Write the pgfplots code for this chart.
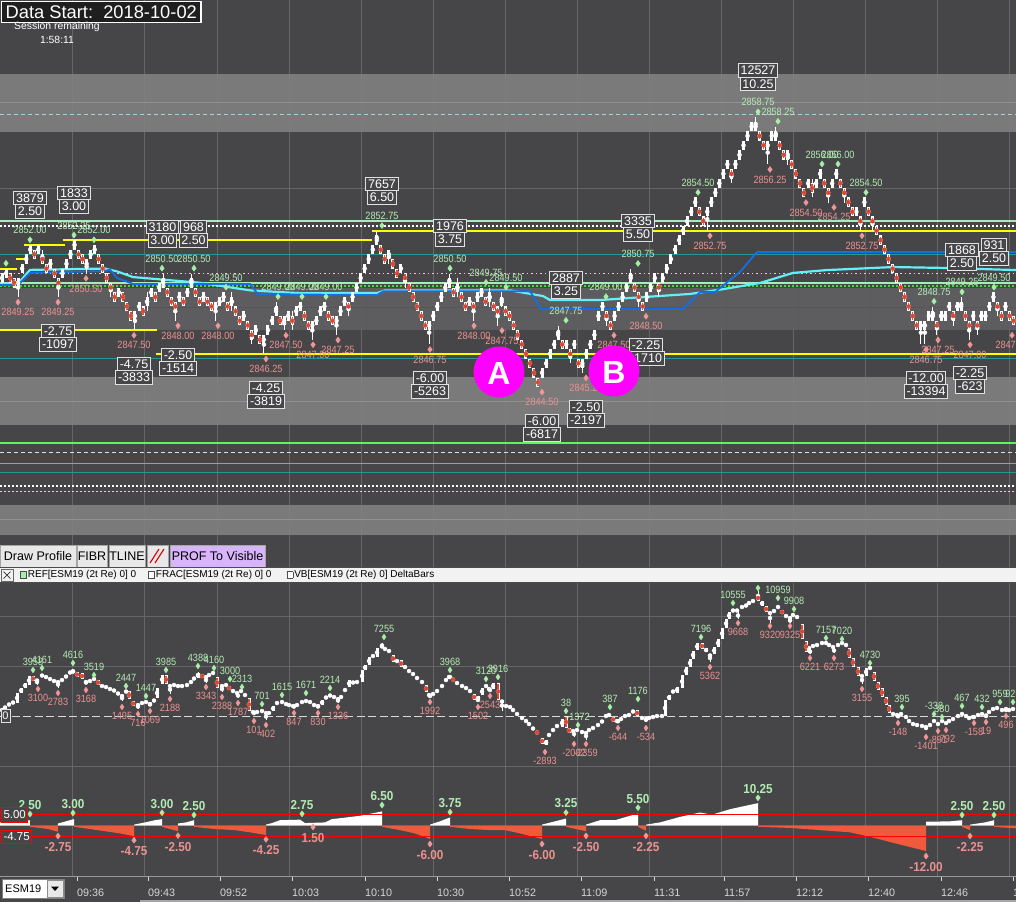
\documentclass[border=0pt]{standalone}
\usepackage{pgfplots}
\pgfplotsset{compat=1.18}
\usepackage{pgfplotstable}
\usepackage{fontspec}
\setmainfont{Liberation Sans}
\newfontfamily\cf[FakeStretch=0.87]{Liberation Sans}
\newfontfamily\cfb[FakeStretch=0.9]{Liberation Sans}

\definecolor{bg}{RGB}{70,70,72}
\definecolor{band}{RGB}{127,127,127}
\definecolor{bandline}{RGB}{145,145,145}
\definecolor{midband}{RGB}{96,96,98}
\definecolor{gridc}{RGB}{102,102,104}
\definecolor{lgreen}{RGB}{180,236,180}
\definecolor{dgreen}{RGB}{165,240,165}
\definecolor{lsal}{RGB}{236,145,145}
\definecolor{dsal}{RGB}{240,150,150}
\definecolor{candlered}{RGB}{222,70,50}
\definecolor{candlewhite}{RGB}{255,255,255}
\definecolor{vblue}{RGB}{20,110,230}
\definecolor{vcyan}{RGB}{100,240,250}
\definecolor{mint}{RGB}{170,235,190}
\definecolor{tealc}{RGB}{40,150,150}
\definecolor{pinkd}{RGB}{240,200,225}
\definecolor{gdot}{RGB}{60,220,60}
\definecolor{bgreen}{RGB}{100,240,100}
\definecolor{orng}{RGB}{230,140,40}
\definecolor{lblue}{RGB}{160,210,230}
\definecolor{histred}{RGB}{240,90,60}
\definecolor{magent}{RGB}{255,0,255}
\definecolor{btn}{RGB}{232,232,232}
\definecolor{btnpurple}{RGB}{216,180,250}
\definecolor{boxline}{RGB}{225,225,225}
\definecolor{ticktext}{RGB}{215,215,215}
\definecolor{yel}{RGB}{255,255,0}
\definecolor{sqgreen}{RGB}{170,235,170}

% ---------- price bars (2-tick renko): bar index, body bottom, down flag
\pgfplotstableread[row sep=\\]{
i b d\\
0 2850.0 0\\ 1 2850.25 0\\ 2 2850.0 1\\ 3 2849.75 1\\ 4 2849.75 0\\ 5 2850.5 0\\ 6 2851.0 0\\ 7 2851.5 0\\
8 2851.25 1\\ 9 2851.5 0\\ 10 2851.0 1\\ 11 2850.5 1\\ 12 2850.75 0\\ 13 2850.25 1\\ 14 2849.75 1\\ 15 2850.25 0\\
16 2850.75 0\\ 17 2851.25 0\\ 18 2851.75 0\\ 19 2851.25 1\\ 20 2851.0 1\\ 21 2850.75 0\\ 22 2851.25 0\\ 23 2851.5 0\\
24 2851.0 1\\ 25 2850.5 1\\ 26 2850.0 1\\ 27 2849.5 1\\ 28 2849.0 1\\ 29 2849.25 0\\ 30 2849.0 1\\ 31 2848.5 1\\
32 2848.0 1\\ 33 2848.0 0\\ 34 2848.5 0\\ 35 2848.25 1\\ 36 2848.75 0\\ 37 2849.25 0\\ 38 2849.0 1\\ 39 2849.5 0\\
40 2849.75 0\\ 41 2849.25 1\\ 42 2848.75 1\\ 43 2848.5 1\\ 44 2849.0 0\\ 45 2848.75 1\\ 46 2849.25 0\\ 47 2849.75 0\\
48 2849.25 1\\ 49 2848.75 1\\ 50 2849.0 0\\ 51 2848.75 1\\ 52 2848.5 1\\ 53 2848.5 0\\ 54 2848.75 0\\ 55 2849.0 0\\
56 2848.5 1\\ 57 2848.75 0\\ 58 2848.25 1\\ 59 2847.75 1\\ 60 2848.0 0\\ 61 2847.5 1\\ 62 2847.0 1\\ 63 2847.25 0\\
64 2846.75 1\\ 65 2846.75 0\\ 66 2847.25 0\\ 67 2847.75 0\\ 68 2848.25 0\\ 69 2847.75 1\\ 70 2847.75 0\\ 71 2848.0 0\\
72 2847.75 1\\ 73 2848.25 0\\ 74 2848.5 0\\ 75 2848.0 1\\ 76 2847.5 1\\ 77 2847.5 0\\ 78 2847.75 0\\ 79 2848.25 0\\
80 2848.5 0\\ 81 2848.0 1\\ 82 2847.75 1\\ 83 2847.75 0\\ 84 2848.25 0\\ 85 2848.75 0\\ 86 2848.5 1\\ 87 2849.0 0\\
88 2849.5 0\\ 89 2850.0 0\\ 90 2850.5 0\\ 91 2851.0 0\\ 92 2851.5 0\\ 93 2852.0 0\\ 94 2851.5 1\\ 95 2851.0 1\\
96 2851.25 0\\ 97 2850.75 1\\ 98 2850.25 1\\ 99 2850.5 0\\ 100 2850.0 1\\ 101 2849.5 1\\ 102 2849.0 1\\ 103 2848.5 1\\
104 2848.0 1\\ 105 2847.5 1\\ 106 2847.5 0\\ 107 2848.0 0\\ 108 2848.5 0\\ 109 2849.0 0\\ 110 2849.5 0\\ 111 2849.75 0\\
112 2849.25 1\\ 113 2849.5 0\\ 114 2849.0 1\\ 115 2848.5 1\\ 116 2848.75 0\\ 117 2848.5 1\\ 118 2849.0 0\\ 119 2849.25 0\\
120 2848.75 1\\ 121 2849.0 0\\ 122 2848.5 1\\ 123 2848.25 1\\ 124 2848.75 0\\ 125 2848.25 1\\ 126 2848.0 1\\ 127 2847.5 1\\
128 2847.0 1\\ 129 2846.5 1\\ 130 2846.0 1\\ 131 2845.5 1\\ 132 2845.0 1\\ 133 2844.5 1\\ 134 2845.0 0\\ 135 2845.5 0\\
136 2846.0 0\\ 137 2846.5 0\\ 138 2847.0 0\\ 139 2846.5 1\\ 140 2846.5 0\\ 141 2846.0 1\\ 142 2846.5 0\\ 143 2845.5 1\\
144 2845.5 0\\ 145 2846.0 0\\ 146 2846.5 0\\ 147 2847.0 0\\ 148 2848.0 0\\ 149 2848.5 0\\ 150 2848.0 1\\ 151 2847.5 1\\
152 2848.0 0\\ 153 2848.5 0\\ 154 2849.0 0\\ 155 2849.5 0\\ 156 2850.0 0\\ 157 2849.5 1\\ 158 2849.0 1\\ 159 2848.5 1\\
160 2849.0 0\\ 161 2849.5 0\\ 162 2850.0 0\\ 163 2849.5 1\\ 164 2850.0 0\\ 165 2850.5 0\\ 166 2851.0 0\\ 167 2851.5 0\\
168 2852.0 0\\ 169 2852.5 0\\ 170 2853.0 0\\ 171 2853.5 0\\ 172 2854.0 0\\ 173 2853.5 1\\ 174 2853.0 1\\ 175 2853.5 0\\
176 2854.0 0\\ 177 2854.5 0\\ 178 2855.0 0\\ 179 2855.5 0\\ 180 2856.0 0\\ 181 2855.5 1\\ 182 2856.0 0\\ 183 2856.5 0\\
184 2857.0 0\\ 185 2857.5 0\\ 186 2858.0 0\\ 187 2858.0 0\\ 188 2857.5 1\\ 189 2857.0 1\\ 190 2857.0 0\\ 191 2857.5 0\\
192 2857.5 0\\ 193 2857.0 1\\ 194 2856.5 1\\ 195 2856.5 0\\ 196 2856.0 1\\ 197 2855.5 1\\ 198 2855.0 1\\ 199 2854.5 1\\
200 2855.0 0\\ 201 2854.75 1\\ 202 2855.0 0\\ 203 2855.5 0\\ 204 2855.0 1\\ 205 2854.5 1\\ 206 2855.0 0\\ 207 2855.5 0\\
208 2855.0 1\\ 209 2854.5 1\\ 210 2854.0 1\\ 211 2853.5 1\\ 212 2853.5 0\\ 213 2853.0 1\\ 214 2854.0 0\\ 215 2853.5 1\\
216 2853.0 1\\ 217 2852.5 1\\ 218 2852.0 1\\ 219 2851.5 1\\ 220 2851.0 1\\ 221 2850.5 1\\ 222 2850.0 1\\ 223 2849.5 1\\
224 2849.0 1\\ 225 2848.5 1\\ 226 2848.0 1\\ 227 2847.5 1\\ 228 2847.5 0\\ 229 2847.5 0\\ 230 2848.0 0\\ 231 2848.0 0\\
232 2847.5 1\\ 233 2848.0 0\\ 234 2848.0 0\\ 235 2848.5 0\\ 236 2848.0 1\\ 237 2848.5 0\\ 238 2848.5 0\\ 239 2848.0 1\\
240 2847.5 1\\ 241 2848.0 0\\ 242 2847.5 1\\ 243 2848.0 0\\ 244 2848.0 0\\ 245 2848.5 0\\ 246 2849.0 0\\ 247 2848.5 1\\
248 2848.0 1\\ 249 2848.5 0\\ 250 2848.0 1\\ 251 2847.75 1\\
}\candles

\pgfplotstableread[row sep=\\]{
i lo hi\\
4 2849.25 2850.25\\ 10 2851.0 2851.75\\ 14 2849.25 2850.25\\ 21 2850.5 2851.25\\ 27 2849.25 2850.0\\ 33 2847.5 2848.5\\
36 2848.5 2849.5\\ 40 2849.75 2850.5\\ 43 2848.0 2849.0\\ 47 2849.75 2850.5\\ 53 2848.0 2849.0\\ 57 2848.5 2849.5\\
62 2846.75 2847.5\\ 65 2846.25 2847.25\\ 68 2848.25 2849.0\\ 70 2847.5 2848.25\\ 72 2847.5 2848.5\\ 77 2847.0 2848.0\\
83 2847.25 2848.25\\ 86 2848.25 2849.0\\ 93 2852.0 2852.75\\ 96 2851.0 2851.75\\ 100 2849.75 2850.5\\ 106 2846.75 2848.0\\
111 2849.75 2850.5\\ 113 2849.25 2850.25\\ 117 2848.0 2849.0\\ 121 2848.75 2849.75\\ 123 2847.75 2848.75\\ 124 2848.75 2849.5\\
138 2847.0 2847.75\\ 141 2845.75 2846.5\\ 144 2845.25 2846.0\\ 150 2847.75 2848.5\\ 156 2850.0 2850.75\\ 158 2848.75 2849.5\\
163 2849.25 2850.0\\ 175 2852.75 2854.0\\ 181 2855.25 2856.0\\ 187 2858.0 2858.75\\ 190 2856.25 2857.5\\ 192 2857.5 2858.25\\
195 2856.25 2857.0\\ 201 2854.5 2855.5\\ 205 2854.25 2855.0\\ 209 2854.25 2855.0\\ 213 2852.75 2853.5\\ 216 2852.75 2853.5\\
228 2846.75 2848.0\\ 229 2846.75 2848.0\\ 231 2848.0 2848.75\\ 232 2847.25 2848.0\\ 236 2847.75 2848.5\\ 238 2848.5 2849.25\\
240 2847.0 2848.0\\ 242 2847.25 2848.0\\ 247 2848.25 2849.0\\
}\wicks

\pgfplotstableread[row sep=\\]{
x p lab\\
30 2852.00 2852.00\\ 74 2852.25 2852.25\\ 94 2852.00 2852.00\\ 162 2850.50 2850.50\\ 194 2850.50 2850.50\\
226 2849.50 2849.50\\ 278 2849.00 2849.00\\ 302 2849.00 2849.00\\ 326 2849.00 2849.00\\ 382 2852.75 2852.75\\
450 2850.50 2850.50\\ 486 2849.75 2849.75\\ 506 2849.50 2849.50\\ 566 2847.75 2847.75\\ 606 2849.00 2849.00\\
638 2850.75 2850.75\\ 698 2854.50 2854.50\\ 758 2858.75 2858.75\\ 778 2858.25 2858.25\\ 822 2856.00 2856.00\\
838 2856.00 2856.00\\ 866 2854.50 2854.50\\ 934 2848.75 2848.75\\ 962 2849.25 2849.25\\ 994 2849.50 2849.50\\
}\mhi

\pgfplotstableread[row sep=\\]{
x p lab\\
18 2849.25 2849.25\\ 58 2849.25 2849.25\\ 86 2850.50 2850.50\\ 134 2847.50 2847.50\\ 178 2848.00 2848.00\\
218 2848.00 2848.00\\ 266 2846.25 2846.25\\ 286 2847.50 2847.50\\ 313 2847.00 2847.00\\ 338 2847.25 2847.25\\
430 2846.75 2846.75\\ 474 2848.00 2848.00\\ 502 2847.75 2847.75\\ 542 2844.50 2844.50\\ 586 2845.25 2845.25\\
614 2847.50 2847.50\\ 646 2848.50 2848.50\\ 710 2852.75 2852.75\\ 770 2856.25 2856.25\\ 806 2854.50 2854.50\\
834 2854.25 2854.25\\ 862 2852.75 2852.75\\ 926 2846.75 2846.75\\ 938 2847.25 2847.25\\ 970 2847.00 2847.00\\
1012 2847.50 2847.50\\
}\mlo

% ---------- cumulative delta bars: x (px), body low, body high, down flag
\pgfplotstableread[row sep=\\]{
x lo hi d\\
2 400 800 0\\ 5 700 1000 0\\ 9 1000 1300 0\\ 13 1200 1500 0\\ 17 1300 2300 0\\ 21 2300 2800 0\\ 25 2800 3300 0\\
29 3100 4000 0\\ 33 3500 4000 1\\ 37 3400 3700 0\\ 42 3900 4200 0\\ 46 3800 4000 0\\ 50 3600 3800 0\\ 54 3400 3600 0\\
58 3300 3500 0\\ 62 3500 3700 0\\ 66 3800 4100 0\\ 70 4200 4500 0\\ 73 4300 4600 0\\ 77 3900 4400 1\\ 82 3700 4300 1\\
86 3300 3500 0\\ 90 3400 3600 0\\ 94 3600 3800 0\\ 98 3100 3600 1\\ 102 2900 3100 0\\ 106 2800 3000 0\\ 110 2600 2800 0\\
114 2400 2700 0\\ 118 2100 2400 0\\ 122 1900 2100 0\\ 126 2300 2600 0\\ 129 1700 2500 1\\ 133 1000 1500 1\\ 138 1000 1200 0\\
142 1200 1400 0\\ 146 1300 1500 0\\ 150 1100 1300 0\\ 154 1400 1700 0\\ 157 1800 2800 0\\ 162 3200 4100 0\\ 166 3200 4100 1\\
170 2900 3100 0\\ 174 3000 3200 0\\ 178 2900 3100 0\\ 182 2900 3100 0\\ 187 3000 3200 0\\ 191 3300 3500 0\\ 194 3600 3900 0\\
198 3800 4300 0\\ 202 3900 4100 1\\ 206 3800 4000 0\\ 209 4000 4200 0\\ 213 4200 4400 0\\ 217 2800 3900 1\\ 222 2900 3100 0\\
226 3000 3200 0\\ 229 2600 3000 1\\ 233 2400 2600 0\\ 237 2200 2400 0\\ 241 2400 2600 0\\ 245 2000 2200 0\\ 249 500 1800 1\\
253 300 500 0\\ 257 300 500 0\\ 262 400 600 0\\ 266 200 400 0\\ 269 200 400 0\\ 273 500 1000 0\\ 277 1200 1400 0\\
282 1300 1500 0\\ 286 1100 1300 0\\ 289 1000 1200 0\\ 293 900 1100 0\\ 297 1000 1200 0\\ 302 1300 1500 0\\ 306 1400 1600 0\\
310 1300 1500 0\\ 314 1000 1200 0\\ 318 900 1100 0\\ 322 1100 1600 0\\ 326 1700 2000 0\\ 330 1900 2200 0\\ 334 1800 2000 0\\
338 1600 1800 0\\ 341 1800 2000 0\\ 345 2500 2700 0\\ 349 2900 3600 0\\ 353 3200 3500 0\\ 357 3300 3500 0\\ 362 3400 4600 0\\
365 4600 5100 0\\ 369 5100 5900 0\\ 373 5900 6100 0\\ 377 5900 6800 0\\ 382 6800 7100 0\\ 385 6600 6800 0\\ 389 6400 6600 0\\
393 5400 6100 1\\ 397 5400 5600 0\\ 401 4900 5600 1\\ 405 4800 5000 0\\ 409 4400 4600 0\\ 413 4100 4300 0\\ 417 3700 3900 0\\
422 3300 3500 0\\ 426 2400 3100 1\\ 429 2000 2200 0\\ 433 2100 2300 0\\ 437 2400 2600 0\\ 442 2900 3100 0\\ 446 3500 3700 0\\
449 3800 4000 0\\ 453 3500 3800 1\\ 457 3200 3400 0\\ 462 2900 3100 0\\ 466 2700 2900 0\\ 470 2400 2600 0\\ 474 1600 2200 1\\
478 1600 2000 0\\ 482 2100 2800 0\\ 486 2900 3100 0\\ 489 2600 2800 0\\ 493 2700 3300 0\\ 498 1600 3300 1\\ 502 1300 1600 0\\
506 900 1100 0\\ 510 800 1000 0\\ 513 500 700 0\\ 517 100 300 0\\ 522 -300 -100 0\\ 526 -600 -400 0\\ 529 -900 -700 0\\
533 -1400 -1100 0\\ 537 -1800 -1500 1\\ 542 -2800 -2200 1\\ 546 -2900 -2400 0\\ 549 -2000 -1800 0\\ 553 -1500 -1300 0\\
557 -1100 -900 0\\ 562 -1100 -300 0\\ 566 -1200 0 1\\ 569 -1700 -1200 1\\ 573 -1600 -1400 0\\ 577 -1500 -1300 0\\
582 -1700 -1500 0\\ 586 -1800 -1600 0\\ 589 -1500 -1300 0\\ 593 -1300 -1100 0\\ 598 -1000 -800 0\\ 602 -700 -400 0\\
606 -100 100 0\\ 609 0 200 0\\ 613 -600 -100 1\\ 617 -600 -400 0\\ 621 -400 -200 0\\ 625 -100 100 0\\ 629 0 200 0\\
633 300 600 0\\ 637 0 600 1\\ 642 -300 -100 0\\ 646 -400 -200 0\\ 649 -300 -100 0\\ 653 -200 0 0\\ 657 -100 100 0\\
662 -100 100 0\\ 665 0 1600 0\\ 669 1600 2100 0\\ 673 2300 2600 0\\ 677 2300 2900 0\\ 682 2800 4100 0\\ 686 4100 4900 0\\
690 4900 5700 0\\ 693 5700 6500 0\\ 697 6600 7300 0\\ 702 6700 7300 1\\ 706 6400 6800 0\\ 710 5900 6200 0\\ 714 6200 6900 0\\
718 6900 7700 0\\ 722 7700 8800 0\\ 726 8800 9700 0\\ 729 9700 10400 0\\ 733 10400 10700 0\\ 737 10400 10700 0\\
742 10800 11000 0\\ 746 10900 11200 0\\ 749 11200 11400 0\\ 753 11400 11600 0\\ 758 11500 12100 1\\ 762 11000 11500 0\\
766 10400 11000 1\\ 770 10200 10400 0\\ 774 10400 10600 0\\ 778 10800 11000 0\\ 782 10200 10600 1\\ 786 9900 10100 0\\
790 9700 9900 0\\ 793 10000 10200 0\\ 797 9800 10000 0\\ 802 7700 9200 1\\ 806 6400 7500 1\\ 809 6700 6900 0\\
813 6900 7100 0\\ 817 7000 7200 0\\ 822 7200 7400 0\\ 826 7200 7400 0\\ 829 7000 7200 0\\ 833 6800 7000 0\\ 838 7000 7200 0\\
842 7200 7400 0\\ 846 7000 7200 0\\ 849 5800 6800 1\\ 853 4900 5800 1\\ 858 4000 4900 1\\ 862 3900 4100 0\\ 866 4000 4800 0\\
870 4700 4900 0\\ 874 3500 4400 1\\ 878 2600 3400 1\\ 882 1900 2800 1\\ 886 1100 1900 1\\ 889 300 1100 1\\ 893 100 300 0\\
897 0 200 0\\ 901 100 300 0\\ 906 -200 0 0\\ 909 -600 -400 0\\ 913 -900 -700 0\\ 917 -1000 -800 0\\ 922 -1100 -900 0\\
926 -1200 -1000 0\\ 930 -1000 -800 0\\ 934 -600 -400 0\\ 938 -900 -700 0\\ 942 -600 -400 0\\ 946 -800 -600 0\\ 949 -600 -400 0\\
953 -400 -200 0\\ 958 -100 100 0\\ 962 100 300 0\\ 966 -100 100 0\\ 969 -300 -100 0\\ 973 -200 0 0\\ 978 0 200 0\\
982 100 300 0\\ 986 -100 100 0\\ 989 300 500 0\\ 993 600 800 0\\ 997 700 900 0\\ 1002 500 700 0\\ 1006 600 800 0\\
1009 500 700 0\\ 1013 600 800 0\\
}\dtab

\pgfplotstableread[row sep=\\]{
x lo hi\\
37 3100 3700\\ 58 2800 3500\\ 73 4300 4650\\ 86 3200 3500\\ 122 1500 2100\\ 138 700 1200\\ 150 1000 1300\\ 170 2200 3100\\
198 3800 4400\\ 206 3300 3900\\ 222 2400 3000\\ 238 1800 2300\\ 254 100 500\\ 266 -400 300\\ 294 800 1100\\ 318 800 1100\\
338 1300 1800\\ 382 6800 7300\\ 430 1900 2100\\ 450 3800 4000\\ 478 1500 1700\\ 490 2500 2700\\ 502 500 1600\\ 546 -2900 -2400\\
574 -2100 -1500\\ 586 -2400 -1600\\ 618 -650 -400\\ 646 -550 -200\\ 710 5400 6200\\ 738 9700 10400\\ 758 11500 12500\\
770 9300 10300\\ 790 9300 9800\\ 810 6200 6700\\ 834 6300 6800\\ 862 3200 4000\\ 898 -150 100\\ 926 -1400 -1000\\
974 -200 0\\ 986 0 100\\ 1006 500 700\\
}\dwick

\pgfplotstableread[row sep=\\]{
x v lab\\
33 4600 3958\\ 42 4800 4161\\ 73 5300 4616\\ 94 4100 3519\\ 126 3000 2447\\ 146 2000 1447\\ 166 4600 3985\\
198 5000 4388\\ 214 4800 4160\\ 230 3700 3000\\ 242 2900 2313\\ 262 1200 701\\ 282 2100 1615\\ 306 2300 1671\\
330 2800 2214\\ 384 7900 7255\\ 450 4600 3968\\ 486 3700 3120\\ 498 3900 3916\\ 566 500 38\\ 578 -900 -1372\\
610 900 387\\ 638 1700 1176\\ 701 7900 7196\\ 733 11300 10555\\ 778 11800 10959\\ 794 10700 9908\\ 826 7800 7157\\
842 7700 7020\\ 870 5300 4730\\ 902 900 395\\ 934 200 -338\\ 942 -100 380\\ 962 1000 467\\ 982 900 432\\
1000 1400 959\\ 1013 1400 920\\
}\dhi

\pgfplotstableread[row sep=\\]{
x v lab\\
38 2700 3100\\ 58 2300 2783\\ 86 2600 3168\\ 122 900 1495\\ 138 200 716\\ 150 500 1069\\ 170 1700 2188\\
206 2900 3343\\ 222 1900 2388\\ 238 1300 1787\\ 254 -500 101\\ 266 -900 -402\\ 294 300 847\\ 318 300 830\\
338 900 1336\\ 430 1400 1992\\ 478 900 1502\\ 490 2000 2543\\ 545 -3600 -2893\\ 574 -2800 -2082\\ 586 -2800 -2359\\
618 -1200 -644\\ 646 -1200 -534\\ 710 4900 5362\\ 738 9300 9668\\ 770 9000 9320\\ 790 9000 9325\\ 810 5800 6221\\
834 5800 6273\\ 862 2700 3155\\ 898 -700 -148\\ 926 -2100 -1401\\ 938 -1500 -891\\ 946 -1400 -792\\ 974 -700 -158\\
986 -600 19\\ 1006 0 496\\
}\dlo

\pgfplotstableread[row sep=\\]{
x v lab\\
30 5.3 2.50\\ 73 5.8 3.00\\ 162 5.9 3.00\\ 194 4.9 2.50\\ 302 5.4 2.75\\ 382 9.4 6.50\\ 450 6.2 3.75\\
566 6.0 3.25\\ 638 8.2 5.50\\ 758 12.7 10.25\\ 962 4.9 2.50\\ 994 4.9 2.50\\
}\bhi

\pgfplotstableread[row sep=\\]{
x v lab\\
58 -4.7 -2.75\\ 134 -6.6 -4.75\\ 178 -4.5 -2.50\\ 266 -6.2 -4.25\\ 313 -0.6 1.50\\ 430 -8.3 -6.00\\
542 -8.3 -6.00\\ 586 -4.6 -2.50\\ 646 -4.6 -2.25\\ 926 -13.8 -12.00\\ 970 -4.7 -2.25\\
}\blo

\tikzset{
  bxs/.style={draw=boxline, line width=0.9pt, fill=bg, inner xsep=2.2pt, inner ysep=0pt,
    minimum height=13.5pt, text=white, font=\fontsize{12.5}{14}\selectfont},
  btnst/.style={draw=black!35, fill=btn, line width=0.6pt},
}
\newcommand\bx[3]{\node[bxs] at (#1pt,-#2pt) {#3};}
\newcommand\sq[1]{{\setlength\fboxsep{0pt}\setlength\fboxrule{0.6pt}\fcolorbox{black!70}{#1}{\phantom{\rule{5.5pt}{5.5pt}}}}\kern1pt}

\pgfplotsset{
  candleaxis/.style={scale only axis, width=1016pt, xmin=0, xmax=1016,
    axis line style={draw=none}, tick style={draw=none},
    xtick={72,144,217,289,361,433,505,577,649,721,793,865,937,1009}, xticklabels={},
    grid style={gridc, line width=0.8pt}, clip=true},
  ebar/.style n args={2}{color=#1, only marks, mark=none, error bars/.cd, y dir=both, y explicit,
    error mark=none, error bar style={draw=#1, solid, line width=#2}},
}

\begin{document}
\begin{tikzpicture}
\useasboundingbox (0,0) rectangle (1016pt,-902pt);
\fill[bg] (0,0) rectangle (1016pt,-902pt);

% ================= MAIN PRICE PANEL =================
\begin{axis}[candleaxis, at={(0pt,0pt)}, anchor=north west, height=568pt,
  ymin=2834.95, ymax=2864.92, ytick=\empty, xmajorgrids]
  % shaded zones
  \addplot[draw=none, fill=band, fill opacity=0.92] coordinates {(0,2857.96) (1016,2857.96) (1016,2861.0) (0,2861.0)} -- cycle;
  \addplot[draw=none, fill=midband, fill opacity=0.9] coordinates {(0,2847.5) (1016,2847.5) (1016,2849.75) (0,2849.75)} -- cycle;
  \addplot[draw=none, fill=band, fill opacity=0.92] coordinates {(0,2842.5) (1016,2842.5) (1016,2845.03) (0,2845.03)} -- cycle;
  \addplot[draw=none, fill=band, fill opacity=0.92] coordinates {(0,2836.69) (1016,2836.69) (1016,2838.27) (0,2838.27)} -- cycle;
  \addplot[bandline, line width=1pt] coordinates {(0,2859.5) (1016,2859.5)};
  \addplot[black!10!midband, line width=1pt] coordinates {(0,2848.72) (1016,2848.72)};
  \addplot[bandline, line width=1pt] coordinates {(0,2843.71) (1016,2843.71)};
  \addplot[bandline, line width=1pt] coordinates {(0,2837.53) (1016,2837.53)};
  \addplot[gridc, line width=0.8pt] coordinates {(0,2855.0) (1016,2855.0)};
  % levels
  \addplot[lblue, line width=1pt, dash pattern=on 4pt off 3pt] coordinates {(0,2858.9) (1016,2858.9)};
  \addplot[mint, line width=1.5pt] coordinates {(0,2853.25) (1016,2853.25)};
  \addplot[white, line width=1.2pt, dash pattern=on 1.5pt off 2.5pt] coordinates {(0,2853.0) (1016,2853.0)};
  \addplot[tealc, line width=1pt] coordinates {(0,2851.5) (1016,2851.5)};
  \addplot[pinkd, line width=1pt, dash pattern=on 1.5pt off 3pt] coordinates {(0,2850.5) (1016,2850.5)};
  \addplot[mint, line width=1.5pt] coordinates {(0,2850.0) (1016,2850.0)};
  \addplot[gdot, line width=1.2pt, dash pattern=on 1.5pt off 2.5pt] coordinates {(0,2849.83) (1016,2849.83)};
  \addplot[tealc, line width=1pt] coordinates {(0,2846.0) (1016,2846.0)};
  \addplot[bgreen, line width=2pt] coordinates {(0,2841.54) (1016,2841.54)};
  \addplot[black!12, line width=1pt, dash pattern=on 4pt off 3pt] coordinates {(0,2841.07) (1016,2841.07)};
  \addplot[orng, line width=1pt] coordinates {(0,2840.49) (1016,2840.49)};
  \addplot[tealc, line width=1pt] coordinates {(0,2840.0) (1016,2840.0)};
  \addplot[white, line width=1.2pt, dash pattern=on 1.5pt off 2.5pt] coordinates {(0,2839.28) (1016,2839.28)};
  \addplot[pinkd, line width=1pt, dash pattern=on 2pt off 2pt] coordinates {(0,2839.0) (1016,2839.0)};
  % yellow swing levels
  \addplot[yel, line width=2pt] coordinates {(0,2850.75) (17,2850.75)};
  \addplot[yel, line width=2pt] coordinates {(16,2851.25) (25,2851.25)};
  \addplot[yel, line width=2pt] coordinates {(24,2852.0) (65,2852.0)};
  \addplot[yel, line width=2pt] coordinates {(63,2852.25) (372,2852.25)};
  \addplot[yel, line width=2pt] coordinates {(372,2852.75) (1016,2852.75)};
  \addplot[yel, line width=2pt] coordinates {(0,2847.5) (157,2847.5)};
  \addplot[yel, line width=2pt] coordinates {(156,2846.25) (1016,2846.25)};
  % VWAP-style lines
  \addplot[vcyan, line width=2.2pt] coordinates {(0,2849.95) (18,2849.95) (30,2850.68) (105,2850.75) (117,2850.6)
    (133,2850.3) (200,2850.0) (250,2849.6) (300,2849.45) (377,2849.46) (385,2849.6) (510,2849.6) (543,2849.3)
    (550,2849.09) (600,2849.09) (690,2849.41) (718,2849.62) (760,2849.99) (793,2850.52) (827,2850.67)
    (893,2850.83) (947,2850.78) (1016,2850.67)};
  \addplot[vblue, line width=1.8pt] coordinates {(0,2849.88) (18,2849.88) (30,2850.52) (105,2850.62) (110,2850.7)
    (117,2850.25) (133,2849.94) (250,2849.94) (258,2849.40) (377,2849.35) (383,2849.55) (530,2849.55)
    (541,2848.62) (683,2848.62) (700,2849.51) (715,2849.51) (740,2850.57) (757,2851.62) (1016,2851.62)};
  % candles
  \addplot[ebar={candlewhite}{1pt}] table[x expr=2+4.03*\thisrow{i}, y expr=(\thisrow{lo}+\thisrow{hi})/2,
    y error expr=(\thisrow{hi}-\thisrow{lo})/2] {\wicks};
  \addplot[ebar={candlewhite}{3pt}] table[x expr=2+4.03*\thisrow{i}, y expr=\thisrow{b}+0.25, y error expr=0.25] {\candles};
  \addplot[restrict expr to domain={\thisrow{d}}{0.5:1.5}, ebar={candlered}{1.2pt}]
    table[x expr=2+4.03*\thisrow{i}, y expr=\thisrow{b}+0.25, y error expr=0.19] {\candles};
  % swing markers
  \addplot[only marks, mark=diamond*, mark size=3pt, color=dgreen] coordinates {(6,2851.03)};
  \addplot[only marks, mark=diamond*, mark size=3pt, color=dgreen, point meta=explicit symbolic,
    nodes near coords, every node near coord/.append style={anchor=center, yshift=9.5pt, text=lgreen,
    inner sep=0pt, font=\cf\fontsize{10.5}{12}\selectfont}]
    table[x=x, y expr=\thisrow{p}+0.27, meta=lab] {\mhi};
  \addplot[only marks, mark=diamond*, mark size=3pt, color=dsal, point meta=explicit symbolic,
    nodes near coords, every node near coord/.append style={anchor=center, yshift=-10pt, text=lsal,
    inner sep=0pt, font=\cf\fontsize{10.5}{12}\selectfont}]
    table[x=x, y expr=\thisrow{p}-0.27, meta=lab] {\mlo};
\end{axis}

% ================= CUMULATIVE DELTA PANEL =================
\begin{axis}[candleaxis, at={(0pt,-582pt)}, anchor=north west, height=184pt,
  ymin=-5000, ymax=13400, ytick={-5000,5000,10000}, yticklabels={}, grid=major]
  \addplot[black!15, line width=1pt, dash pattern=on 8pt off 3.5pt] coordinates {(0,0) (1016,0)};
  \addplot[ebar={candlewhite}{1pt}] table[x=x, y expr=(\thisrow{lo}+\thisrow{hi})/2,
    y error expr=(\thisrow{hi}-\thisrow{lo})/2] {\dwick};
  \addplot[ebar={candlewhite}{3pt}] table[x=x, y expr=(\thisrow{lo}+\thisrow{hi})/2,
    y error expr=(\thisrow{hi}-\thisrow{lo})/2] {\dtab};
  \addplot[restrict expr to domain={\thisrow{d}}{0.5:1.5}, ebar={candlered}{1.2pt}]
    table[x=x, y expr=(\thisrow{lo}+\thisrow{hi})/2,
    y error expr=(\thisrow{hi}-\thisrow{lo})/2-70] {\dtab};
  \addplot[only marks, mark=diamond*, mark size=2.8pt, color=dgreen] coordinates {(758,12800)};
  \addplot[only marks, mark=diamond*, mark size=2.8pt, color=dgreen, point meta=explicit symbolic,
    nodes near coords, every node near coord/.append style={anchor=center, yshift=8.5pt, text=lgreen,
    inner sep=0pt, font=\cf\fontsize{10.5}{12}\selectfont}]
    table[x=x, y=v, meta=lab] {\dhi};
  \addplot[only marks, mark=diamond*, mark size=2.8pt, color=dsal, point meta=explicit symbolic,
    nodes near coords, every node near coord/.append style={anchor=center, yshift=-9pt, text=lsal,
    inner sep=0pt, font=\cf\fontsize{10.5}{12}\selectfont}]
    table[x=x, y=v, meta=lab] {\dlo};
\end{axis}

% ================= DELTA BARS (SWING) PANEL =================
\begin{axis}[scale only axis, width=1016pt, height=110pt, at={(0pt,-766pt)}, anchor=north west,
  xmin=0, xmax=1016, ymin=-22.86, ymax=27.14, clip=true,
  axis x line*=bottom, axis y line=none,
  x axis line style={draw=black!40, line width=0.8pt, -},
  xtick={77,148,220,292,365,437,509,581,654,724,796,868,941,1013},
  xticklabels={09:36,09:43,09:52,10:03,10:10,10:30,10:52,11:09,11:31,11:57,12:12,12:40,12:46,12:52},
  tick align=outside, major tick length=5pt, tick style={draw=ticktext, line width=0.8pt},
  xticklabel style={anchor=north west, xshift=-3.5pt, yshift=-4.5pt, text=ticktext,
    font=\fontsize{10.8}{12}\selectfont},
  extra x ticks={72,144,217,289,361,433,505,577,649,721,793,865,937,1009},
  extra x tick labels={}, extra x tick style={grid=major, major tick length=0pt},
  grid style={gridc, line width=0.8pt}, ytick=\empty]
  \addplot[fill=white, draw=none] coordinates {
    (0,0) (0,1.5) (18,1.5) (22,2.0) (30,2.5) (30,0)
    (58,0) (58,1.0) (66,2.0) (74,3.0) (74,0)
    (134,0) (134,0.5) (145,1.5) (155,2.5) (162,3.0) (162,0)
    (178,0) (178,1.0) (186,1.5) (194,2.5) (194,0)
    (266,0) (266,0.5) (272,1.2) (280,2.5) (300,2.75) (305,1.2) (325,1.5) (332,3.0) (340,3.4) (360,4.5) (382,6.5) (382,0)
    (430,0) (430,0.5) (440,2.0) (450,3.75) (450,0)
    (542,0) (542,0.5) (555,2.0) (566,3.25) (566,0)
    (586,0) (586,0.5) (600,2.5) (615,2.5) (630,4.5) (638,5.5) (638,0)
    (646,0) (646,0.5) (660,1.5) (668,2.5) (680,4.0) (700,6.0) (712,5.0) (730,7.5) (745,9.0) (758,10.25) (758,0)
    (926,0) (926,1.8) (950,2.0) (962,2.5) (962,0)
    (970,0) (970,0.5) (985,1.5) (994,2.5) (994,0)} -- cycle;
  \addplot[fill=histred, draw=none] coordinates {
    (30,0) (30,-0.5) (40,-1.0) (48,-1.5) (58,-2.75) (58,0)
    (74,0) (74,-0.5) (90,-1.5) (105,-2.5) (120,-3.5) (134,-4.75) (134,0)
    (162,0) (162,-0.5) (170,-1.5) (178,-2.5) (178,0)
    (194,0) (194,-0.5) (215,-1.5) (235,-2.0) (250,-3.0) (266,-4.25) (266,0)
    (382,0) (382,-0.5) (400,-2.0) (415,-3.5) (430,-6.0) (430,0)
    (450,0) (450,-0.5) (470,-1.5) (490,-2.0) (505,-2.0) (520,-3.5) (542,-6.0) (542,0)
    (566,0) (566,-0.5) (576,-1.5) (586,-2.5) (586,0)
    (638,0) (638,-0.5) (646,-2.25) (646,0)
    (758,0) (758,-0.5) (790,-1.0) (820,-2.0) (850,-3.0) (870,-5.0) (895,-8.0) (926,-11.5) (926,0)
    (962,0) (962,-0.5) (970,-2.0) (970,0)
    (994,0) (994,-0.5) (1016,-1.2) (1016,0)} -- cycle;
  \addplot[red, line width=1pt] coordinates {(0,5) (1016,5)};
  \addplot[red, line width=1pt] coordinates {(0,-4.75) (1016,-4.75)};
  \addplot[only marks, mark=diamond*, mark size=3pt, color=dgreen, point meta=explicit symbolic,
    nodes near coords, every node near coord/.append style={anchor=center, yshift=9pt, text=lgreen,
    inner sep=0pt, font=\cfb\bfseries\fontsize{13}{14}\selectfont}]
    table[x=x, y=v, meta=lab] {\bhi};
  \addplot[only marks, mark=diamond*, mark size=3pt, color=dsal, point meta=explicit symbolic,
    nodes near coords, every node near coord/.append style={anchor=center, yshift=-11pt, text=lsal,
    inner sep=0pt, font=\cfb\bfseries\fontsize{13}{14}\selectfont}]
    table[x=x, y=v, meta=lab] {\blo};
\end{axis}

% ================= ANNOTATION BOXES =================
\bx{30}{198}{3879}\bx{30}{211.5}{2.50}
\bx{74}{193}{1833}\bx{74}{206.5}{3.00}
\bx{162.5}{227}{3180}\bx{162.5}{240.5}{3.00}
\bx{193.5}{227}{968}\bx{193.5}{240.5}{2.50}
\bx{382}{184}{7657}\bx{382}{197.5}{6.50}
\bx{450}{226}{1976}\bx{450}{239.5}{3.75}
\bx{566}{278}{2887}\bx{566}{291.5}{3.25}
\bx{638}{221}{3335}\bx{638}{234.5}{5.50}
\bx{758}{70.5}{12527}\bx{758}{84}{10.25}
\bx{962}{250}{1868}\bx{962}{263.5}{2.50}
\bx{994}{245}{931}\bx{994}{258.5}{2.50}
\bx{58}{331}{-2.75}\bx{58}{344.5}{-1097}
\bx{134}{364}{-4.75}\bx{134}{377.5}{-3833}
\bx{178}{355}{-2.50}\bx{178}{368.5}{-1514}
\bx{266}{388}{-4.25}\bx{266}{401.5}{-3819}
\bx{430}{378}{-6.00}\bx{430}{391.5}{-5263}
\bx{542}{421}{-6.00}\bx{542}{434.5}{-6817}
\bx{586}{407}{-2.50}\bx{586}{420.5}{-2197}
\bx{646}{345}{-2.25}\bx{646}{358.5}{-1710}
\bx{926}{378}{-12.00}\bx{926}{391.5}{-13394}
\bx{970}{373}{-2.25}\bx{970}{386.5}{-623}

% A / B markers
\fill[magent] (499pt,-372pt) circle (25.5pt);
\node[text=white, font=\bfseries\fontsize{32}{34}\selectfont] at (499pt,-373pt) {A};
\fill[magent] (614pt,-371pt) circle (25.5pt);
\node[text=white, font=\bfseries\fontsize{32}{34}\selectfont] at (614pt,-372pt) {B};

% header
\node[draw=white, line width=1.3pt, fill=black!88, text=white, anchor=north west, inner xsep=4pt,
  inner ysep=0pt, minimum height=21pt, font=\fontsize{18.3}{20}\selectfont] at (1pt,-1pt) {Data Start:\ \ 2018-10-02};
\node[text=white, font=\fontsize{10.4}{12}\selectfont, inner sep=0pt] at (57pt,-27pt) {Session remaining};
\node[text=white, font=\fontsize{10.4}{12}\selectfont, inner sep=0pt] at (57pt,-40pt) {1:58:11};

% toolbar
\draw[btnst] (0pt,-545pt) rectangle (76pt,-567pt);
\node[font=\fontsize{12.5}{14}\selectfont, inner sep=0pt] at (38pt,-556pt) {Draw Profile};
\draw[btnst] (77pt,-545pt) rectangle (107pt,-567pt);
\node[font=\fontsize{12.5}{14}\selectfont, inner sep=0pt] at (92pt,-556pt) {FIBR};
\draw[btnst] (109pt,-545pt) rectangle (145pt,-567pt);
\node[font=\fontsize{12.5}{14}\selectfont, inner sep=0pt] at (127pt,-556pt) {TLINE};
\draw[btnst] (147pt,-545pt) rectangle (168pt,-567pt);
\draw[red!85!black, line width=1.1pt] (150pt,-563pt) -- (159pt,-549pt) (155pt,-563pt) -- (164pt,-549pt);
\draw[draw=black!35, fill=btnpurple, line width=0.6pt] (170pt,-545pt) rectangle (265pt,-567pt);
\node[font=\fontsize{12.5}{14}\selectfont, inner sep=0pt] at (217.5pt,-556pt) {PROF To Visible};

% indicator strip
\fill[black!5] (0pt,-567.5pt) rectangle (1016pt,-582pt);
\draw[black!70, line width=1pt] (0pt,-567.5pt) -- (1016pt,-567.5pt);
\draw[black!70, line width=0.8pt] (0pt,-582pt) -- (1016pt,-582pt);
\draw[black!60, line width=0.6pt] (1pt,-569pt) rectangle (13pt,-581pt);
\draw[black!80, line width=0.7pt] (3.5pt,-571.5pt) -- (10.5pt,-578.5pt) (3.5pt,-578.5pt) -- (10.5pt,-571.5pt);
\node[anchor=west, inner sep=0pt, font=\fontsize{10}{12}\selectfont] at (20pt,-575pt)
  {\sq{sqgreen}REF[ESM19 (2t Re) 0] 0\hspace{12pt}\sq{white}FRAC[ESM19 (2t Re) 0] 0\hspace{15pt}\sq{white}VB[ESM19 (2t Re) 0] DeltaBars};

% panel value tags
\node[draw=boxline, line width=0.8pt, fill=bg, text=white, anchor=west, inner xsep=1.5pt, inner ysep=0pt,
  minimum height=13pt, font=\fontsize{11}{12}\selectfont] at (0.5pt,-716pt) {0};
\node[draw=red, line width=1pt, fill=bg, text=white, anchor=west, inner xsep=2pt, inner ysep=0pt,
  minimum height=15pt, font=\fontsize{11.5}{13}\selectfont] at (1pt,-814.5pt) {5.00};
\node[draw=red, line width=1pt, fill=bg, text=white, anchor=west, inner xsep=2pt, inner ysep=0pt,
  minimum height=13pt, font=\fontsize{11.5}{13}\selectfont] at (1pt,-836.5pt) {-4.75};

% instrument selector
\draw[fill=white, draw=black!50, line width=0.6pt] (2pt,-879pt) rectangle (64pt,-898pt);
\node[anchor=west, inner sep=0pt, font=\fontsize{11}{12}\selectfont] at (5pt,-888.5pt) {ESM19};
\draw[fill=btn, draw=black!45, line width=0.5pt] (47pt,-880pt) rectangle (63pt,-897pt);
\fill[black] (51pt,-886.5pt) -- (59pt,-886.5pt) -- (55pt,-891pt) -- cycle;
\fill[black!35] (140pt,-899.5pt) rectangle (1016pt,-902pt);
\end{tikzpicture}
\end{document}
